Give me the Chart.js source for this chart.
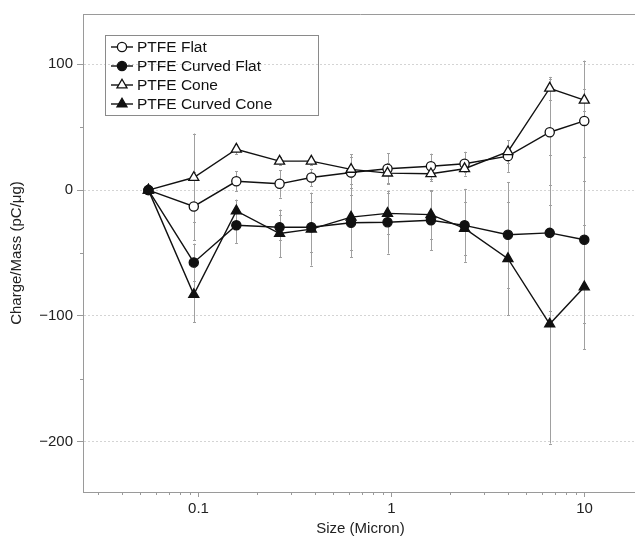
<!DOCTYPE html>
<html>
<head>
<meta charset="utf-8">
<script src="https://cdn.jsdelivr.net/npm/chart.js@4.4.1/dist/chart.umd.min.js"></script>
<style>
  html, body { margin: 0; padding: 0; background: #fff; overflow: hidden; }
</style>
</head>
<body>
<canvas id="chart" width="645" height="539"></canvas>
<script>
// particle size (micron) for each impactor stage
const sizes = [0.055, 0.0945, 0.157, 0.263, 0.384, 0.617, 0.953, 1.6, 2.39, 4.01, 6.6, 9.97];

// charge/mass (pC/ug) and +/- spread per stage
const ptfeFlat = [0, -13, 7, 5, 10, 14, 17, 19, 21, 27, 46, 55];
const ptfeFlatErr = [0, 27, 8, 11, 7, 12, 12.5, 10, 9.5, 12.5, 42, 48];

const ptfeCurvedFlat = [0, -57.5, -28, -29.5, -29.5, -26, -25.5, -24, -28, -35.5, -34, -39.5];
const ptfeCurvedFlatErr = [0, 15, 14, 10, 20, 22, 25, 24, 29, 42, 62, 66];

const ptfeCone = [0, 10, 32.5, 23, 23, 16.5, 13.5, 13, 17, 30.5, 81, 71.5];
const ptfeConeErr = [0, 35, 4, 3, 3, 12, 8, 6, 3, 9, 9, 9];

const ptfeCurvedCone = [0, -83, -16.5, -34.5, -31, -21.5, -18.5, -19.5, -30.5, -54.5, -106.5, -77];
const ptfeCurvedConeErr = [0, 22, 9, 19, 29, 32, 16, 19, 21, 45, 95, 49.5];

const seriesNames = ['PTFE Flat', 'PTFE Curved Flat', 'PTFE Cone', 'PTFE Curved Cone'];

// axis ticks
const xMajorTicks = [0.1, 1, 10];
const xMinorTicks = [0.03, 0.04, 0.05, 0.06, 0.07, 0.08, 0.09,
  0.2, 0.3, 0.4, 0.5, 0.6, 0.7, 0.8, 0.9, 2, 3, 4, 5, 6, 7, 8, 9];
const yMajorTicks = [-200, -100, 0, 100];
const yMinorTicks = [-150, -50, 50];

const FONT = '"Liberation Sans", Arial, Helvetica, sans-serif';
const AXIS_GRAY = '#9a9a9a';

function points(values) {
  return values.map(function (v, i) { return { x: sizes[i], y: v }; });
}

function series(label, values, errors, style, filled, order) {
  return {
    label: label,
    data: points(values),
    errors: errors,
    order: order,
    borderColor: '#111',
    borderWidth: 1.4,
    tension: 0,
    pointStyle: style,
    pointRadius: style === 'triangle' ? 5.8 : 4.6,
    pointBorderWidth: 1.3,
    pointBorderColor: '#111',
    pointBackgroundColor: filled ? '#111' : '#fff'
  };
}

function drawMarker(ctx, style, r, x, y, filled) {
  ctx.beginPath();
  if (style === 'triangle') {
    let rad = 0;
    ctx.moveTo(x + Math.sin(rad) * r, y - Math.cos(rad) * r);
    rad += 2 * Math.PI / 3;
    ctx.lineTo(x + Math.sin(rad) * r, y - Math.cos(rad) * r);
    rad += 2 * Math.PI / 3;
    ctx.lineTo(x + Math.sin(rad) * r, y - Math.cos(rad) * r);
    ctx.closePath();
  } else {
    ctx.arc(x, y, r, 0, Math.PI * 2);
  }
  ctx.fillStyle = filled ? '#111' : '#fff';
  ctx.fill();
  ctx.lineWidth = 1.3;
  ctx.strokeStyle = '#111';
  ctx.stroke();
}

// vertical spread bars behind the lines
const errorBars = {
  id: 'errorBars',
  beforeDatasetsDraw(chart) {
    const { ctx, chartArea: a, scales: { x, y } } = chart;
    ctx.save();
    ctx.beginPath();
    ctx.rect(a.left, a.top, a.right - a.left, a.bottom - a.top);
    ctx.clip();
    ctx.strokeStyle = '#a0a0a0';
    ctx.lineWidth = 1;
    chart.data.datasets.forEach(function (ds) {
      ds.data.forEach(function (pt, i) {
        const e = ds.errors[i];
        if (!e) return;
        const px = Math.round(x.getPixelForValue(pt.x)) + 0.5;
        const top = y.getPixelForValue(pt.y + e);
        const bot = y.getPixelForValue(pt.y - e);
        ctx.beginPath();
        ctx.moveTo(px, top); ctx.lineTo(px, bot);
        ctx.moveTo(px - 1.5, Math.round(top) + 0.5); ctx.lineTo(px + 1.5, Math.round(top) + 0.5);
        ctx.moveTo(px - 1.5, Math.round(bot) + 0.5); ctx.lineTo(px + 1.5, Math.round(bot) + 0.5);
        ctx.stroke();
      });
    });
    ctx.restore();
  }
};

// top frame line and short minor tick marks
const frame = {
  id: 'frame',
  afterDraw(chart) {
    const { ctx, chartArea: a, scales: { x, y } } = chart;
    ctx.save();
    ctx.strokeStyle = AXIS_GRAY;
    ctx.lineWidth = 1;
    ctx.beginPath();
    ctx.moveTo(a.left, a.top + 0.5);
    ctx.lineTo(a.right, a.top + 0.5);
    xMinorTicks.forEach(function (v) {
      const px = Math.round(x.getPixelForValue(v)) + 0.5;
      ctx.moveTo(px, a.bottom);
      ctx.lineTo(px, a.bottom + 3);
    });
    yMinorTicks.forEach(function (v) {
      const py = Math.round(y.getPixelForValue(v)) + 0.5;
      ctx.moveTo(a.left, py);
      ctx.lineTo(a.left - 3, py);
    });
    ctx.stroke();
    ctx.restore();
  }
};

// boxed legend in the upper left of the plot
const boxLegend = {
  id: 'boxLegend',
  afterDraw(chart) {
    const ctx = chart.ctx;
    ctx.save();
    ctx.strokeStyle = '#8a8a8a';
    ctx.lineWidth = 1;
    ctx.strokeRect(105.5, 35.5, 213, 80);
    chart.data.datasets.forEach(function (ds, i) {
      const yy = 47 + i * 19;
      ctx.beginPath();
      ctx.moveTo(111, yy);
      ctx.lineTo(133, yy);
      ctx.lineWidth = 1.4;
      ctx.strokeStyle = '#111';
      ctx.stroke();
      drawMarker(ctx, ds.pointStyle, ds.pointRadius, 122, yy, ds.pointBackgroundColor !== '#fff');
      ctx.fillStyle = '#111';
      ctx.font = '15.5px ' + FONT;
      ctx.textBaseline = 'middle';
      ctx.textAlign = 'left';
      ctx.fillText(ds.label, 137, yy + 1);
    });
    ctx.restore();
  }
};

new Chart(document.getElementById('chart'), {
  type: 'line',
  data: {
    datasets: [
      series(seriesNames[0], ptfeFlat, ptfeFlatErr, 'circle', false, 3),
      series(seriesNames[1], ptfeCurvedFlat, ptfeCurvedFlatErr, 'circle', true, 0),
      series(seriesNames[2], ptfeCone, ptfeConeErr, 'triangle', false, 2),
      series(seriesNames[3], ptfeCurvedCone, ptfeCurvedConeErr, 'triangle', true, 1)
    ]
  },
  plugins: [errorBars, frame, boxLegend],
  options: {
    responsive: false,
    animation: false,
    devicePixelRatio: 1,
    layout: { padding: { top: 14, right: 4, left: 0, bottom: 0 } },
    plugins: {
      legend: { display: false },
      tooltip: { enabled: false }
    },
    scales: {
      x: {
        type: 'logarithmic',
        min: 0.0252,
        max: 18.9,
        afterBuildTicks: function (scale) {
          scale.ticks = xMajorTicks.map(function (v) { return { value: v }; });
        },
        afterFit: function (scale) { scale.height = 47; },
        border: { color: AXIS_GRAY, width: 1 },
        grid: { drawOnChartArea: false, tickLength: 5, tickColor: AXIS_GRAY },
        ticks: {
          autoSkip: false,
          maxRotation: 0,
          padding: 3,
          color: '#222',
          font: { family: FONT, size: 15 },
          callback: function (v) { return String(v); }
        },
        title: {
          display: true,
          text: 'Size (Micron)',
          color: '#222',
          font: { family: FONT, size: 15 },
          padding: { top: 0, bottom: 1 }
        }
      },
      y: {
        min: -240,
        max: 140,
        afterBuildTicks: function (scale) {
          scale.ticks = yMajorTicks.map(function (v) { return { value: v }; });
        },
        afterFit: function (scale) { scale.width = 83; },
        border: { color: AXIS_GRAY, width: 1, dash: [2, 2] },
        grid: { color: '#d4d4d4', lineWidth: 1, tickLength: 6, tickColor: AXIS_GRAY },
        ticks: {
          padding: 4,
          color: '#222',
          font: { family: FONT, size: 15 },
          callback: function (v) { return v < 0 ? '\u2212' + Math.abs(v) : String(v); }
        },
        title: {
          display: true,
          text: 'Charge/Mass (pC/\u03bcg)',
          color: '#222',
          font: { family: FONT, size: 15 },
          padding: { top: 8, bottom: 0 }
        }
      }
    }
  }
});
</script>
</body>
</html>
